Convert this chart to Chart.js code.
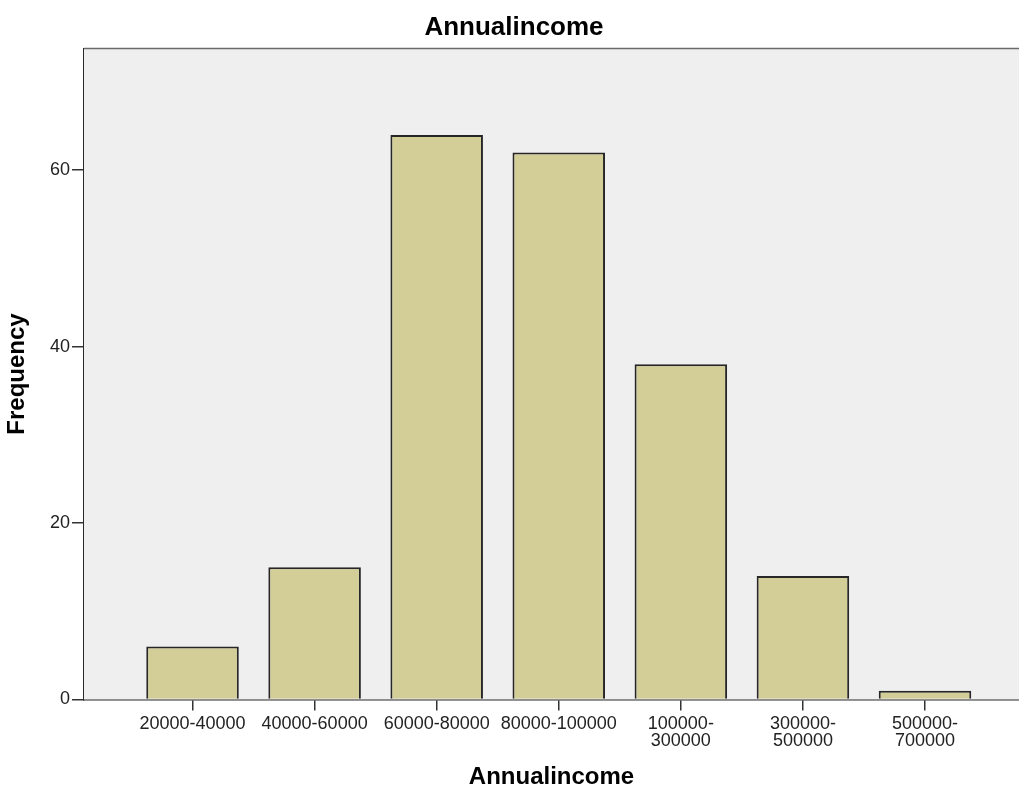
<!DOCTYPE html>
<html>
<head>
<meta charset="utf-8">
<script src="https://cdn.jsdelivr.net/npm/chart.js@4/dist/chart.umd.min.js"></script>
<style>
  html, body { margin: 0; padding: 0; background: #ffffff; }
  #wrap { width: 1019px; height: 787px; }
</style>
</head>
<body>
<div id="wrap"><canvas id="c" width="1019" height="787"></canvas></div>
<script>
// ---- data ----
const categories = ["20000-40000", "40000-60000", "60000-80000", "80000-100000", "100000-300000", "300000-500000", "500000-700000"];
const tickLabels = [["20000-40000"], ["40000-60000"], ["60000-80000"], ["80000-100000"], ["100000-", "300000"], ["300000-", "500000"], ["500000-", "700000"]];
const frequencies = [6, 15, 64, 62, 38, 14, 1];
const yTicks = [0, 20, 40, 60];
const chartTitle = "Annualincome";
const xTitle = "Annualincome";
const yTitle = "Frequency";

const FONT = "'Liberation Sans', Arial, Helvetica, sans-serif";

const plotFrame = {
  id: 'plotFrame',
  beforeDatasetsDraw(chart) {
    const { ctx, chartArea: a } = chart;
    ctx.save();
    ctx.fillStyle = '#efefef';
    ctx.fillRect(a.left, a.top, a.right - a.left, a.bottom - a.top);
    ctx.strokeStyle = '#6a6a6a';
    ctx.lineWidth = 1.5;
    ctx.beginPath();
    ctx.moveTo(a.left, a.top);
    ctx.lineTo(a.right, a.top);
    ctx.stroke();
    ctx.restore();
  }
};

new Chart(document.getElementById('c'), {
  type: 'bar',
  data: {
    datasets: [{
      label: yTitle,
      data: frequencies.map((v, i) => ({ x: i, y: v })),
      backgroundColor: '#d3ce97',
      borderColor: '#262626',
      borderWidth: 2,
      categoryPercentage: 1,
      barPercentage: 0.758
    }]
  },
  plugins: [plotFrame],
  options: {
    responsive: false,
    animation: false,
    layout: { padding: { left: 9, right: 0, top: 0, bottom: 0 } },
    plugins: {
      legend: { display: false },
      tooltip: { enabled: false },
      title: {
        display: true,
        text: chartTitle,
        color: '#000',
        font: { family: FONT, size: 26, weight: 'bold', lineHeight: 1.2 },
        padding: { top: 12, bottom: 5.3 }
      }
    },
    scales: {
      x: {
        type: 'linear',
        min: -0.889,
        max: 6.77,
        offset: false,
        bounds: 'data',
        z: 1,
        afterBuildTicks(scale) {
          scale.ticks = categories.map((c, i) => ({ value: i }));
        },
        afterFit(scale) { scale.height = 87.5; },
        ticks: {
          autoSkip: false,
          maxRotation: 0,
          padding: 5,
          color: '#222',
          font: { family: FONT, size: 18, lineHeight: 0.93 },
          callback: (v) => tickLabels[Math.round(v)] || ''
        },
        grid: { offset: false, drawOnChartArea: false, drawTicks: true, tickLength: 11, color: '#333', lineWidth: 1.5 },
        border: { display: true, color: '#2a2a2a', width: 1.5 },
        title: {
          display: true,
          text: xTitle,
          color: '#000',
          font: { family: FONT, size: 24, weight: 'bold', lineHeight: 0.8 },
          padding: { top: 0, bottom: 0 }
        }
      },
      y: {
        min: 0,
        max: 73.8,
        afterBuildTicks(scale) {
          scale.ticks = yTicks.map(v => ({ value: v }));
        },
        afterFit(scale) { scale.width = 75; },
        ticks: {
          padding: 2,
          color: '#222',
          font: { family: FONT, size: 18 }
        },
        grid: { drawOnChartArea: false, drawTicks: true, tickLength: 12, color: '#333', lineWidth: 1.5 },
        border: { display: true, color: '#2a2a2a', width: 1.5 },
        title: {
          display: true,
          text: yTitle,
          color: '#000',
          font: { family: FONT, size: 24, weight: 'bold', lineHeight: 0.7 },
          padding: { top: 0, bottom: 0 }
        }
      }
    }
  }
});
</script>
</body>
</html>
